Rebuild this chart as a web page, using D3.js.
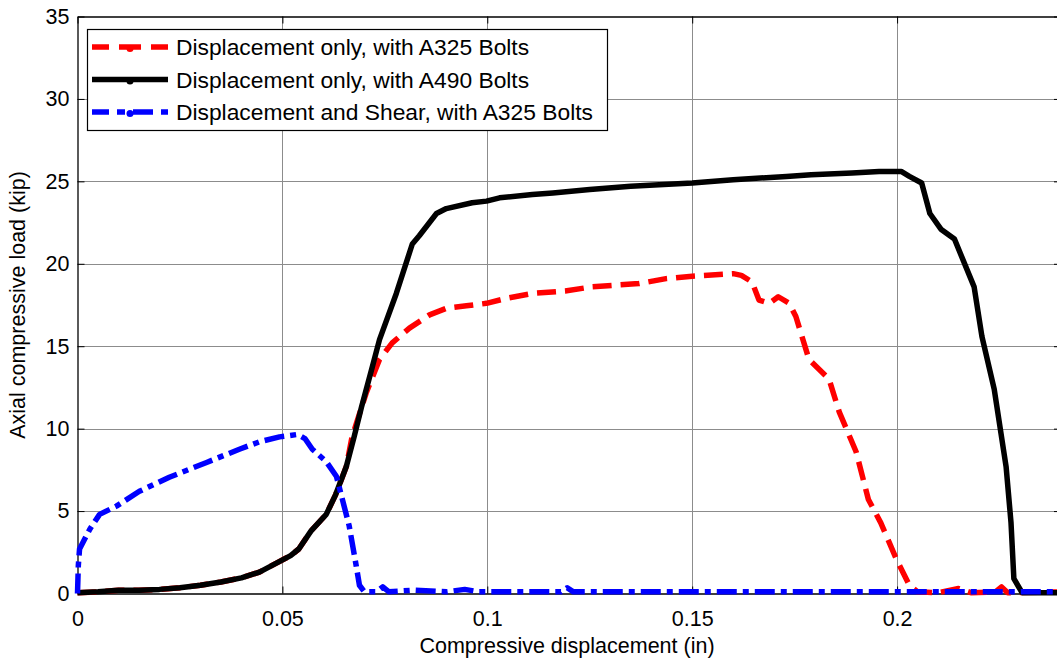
<!DOCTYPE html>
<html>
<head>
<meta charset="utf-8">
<script src="https://cdn.jsdelivr.net/npm/d3@7"></script>
<style>
  body { margin: 0; background: #fff; }
  svg { font-family: "Liberation Sans", Arial, sans-serif; }
</style>
</head>
<body>
<svg id="chart" width="1057" height="659"></svg>
<script>
// data
var a490X = [0, 0.005, 0.01, 0.015, 0.02, 0.025, 0.03, 0.035, 0.04, 0.0444, 0.049, 0.052, 0.054, 0.057, 0.0607, 0.063, 0.0656, 0.0675, 0.0693, 0.072, 0.0737, 0.0778, 0.0817, 0.0834, 0.0876, 0.09, 0.0963, 0.0998, 0.103, 0.111, 0.116, 0.125, 0.135, 0.15, 0.16, 0.173, 0.179, 0.189, 0.1956, 0.201, 0.203, 0.206, 0.208, 0.2107, 0.214, 0.2188, 0.2207, 0.2237, 0.2266, 0.2278, 0.2285, 0.2305, 0.24];
var a490Y = [0.05, 0.1, 0.2, 0.2, 0.25, 0.35, 0.5, 0.7, 0.95, 1.3, 1.9, 2.3, 2.7, 3.8, 4.8, 6.0, 7.7, 9.5, 11.3, 13.8, 15.4, 18.2, 21.2, 21.7, 23.05, 23.35, 23.7, 23.8, 24.0, 24.2, 24.3, 24.5, 24.7, 24.9, 25.1, 25.3, 25.4, 25.5, 25.6, 25.6, 25.3, 24.9, 23.05, 22.1, 21.5, 18.6, 15.6, 12.4, 7.7, 4.3, 0.9, 0.05, 0.05];

var a325X = [0, 0.005, 0.01, 0.015, 0.02, 0.025, 0.03, 0.035, 0.04, 0.0444, 0.049, 0.052, 0.054, 0.057, 0.0607, 0.063, 0.0656, 0.067, 0.0705, 0.0737, 0.0768, 0.081, 0.0859, 0.09, 0.0949, 0.0998, 0.1046, 0.111, 0.119, 0.1256, 0.137, 0.1436, 0.15, 0.16, 0.162, 0.1646, 0.1663, 0.1688, 0.171, 0.1737, 0.1753, 0.1785, 0.1834, 0.1859, 0.19, 0.193, 0.196, 0.1998, 0.203, 0.205, 0.21, 0.215, 0.218, 0.224, 0.2255, 0.227, 0.24];
var a325Y = [0.05, 0.1, 0.2, 0.2, 0.25, 0.35, 0.5, 0.7, 0.95, 1.3, 1.9, 2.3, 2.7, 3.8, 4.8, 6.0, 7.7, 9.5, 12.2, 14.2, 15.2, 16.1, 16.9, 17.3, 17.45, 17.6, 17.9, 18.2, 18.35, 18.6, 18.8, 19.1, 19.25, 19.4, 19.3, 18.9, 17.8, 17.6, 18.0, 17.6, 16.8, 14.2, 13.0, 11.0, 8.6, 5.7, 4.3, 2.1, 0.5, 0.1, 0.05, 0.3, 0.05, 0.1, 0.4, 0.05, 0.1];

var shearX = [0, 0.0002, 0.0005, 0.003, 0.0054, 0.0095, 0.0151, 0.0224, 0.0315, 0.0395, 0.0444, 0.0493, 0.0537, 0.0555, 0.0573, 0.0607, 0.0632, 0.0663, 0.068, 0.0688, 0.07, 0.073, 0.0745, 0.076, 0.082, 0.09, 0.0945, 0.098, 0.118, 0.1195, 0.121, 0.24];
var shearY = [0, 1.7, 2.7, 3.9, 4.8, 5.3, 6.2, 7.05, 7.95, 8.75, 9.2, 9.5, 9.65, 9.4, 8.75, 8.0, 7.1, 4.1, 1.7, 0.5, 0.1, 0.1, 0.4, 0.1, 0.2, 0.1, 0.25, 0.1, 0.1, 0.35, 0.1, 0.1];

var xTicks = [0, 0.05, 0.1, 0.15, 0.2];
var yTicks = [0, 5, 10, 15, 20, 25, 30, 35];

var seriesNames = ["Displacement only, with A325 Bolts", "Displacement only, with A490 Bolts", "Displacement and Shear, with A325 Bolts"];
var seriesColors = ["#ff0000", "#000000", "#0000ff"];
var seriesDash = ["19,9", null, "20,6,6,6"];

function drawChart() {
  var svg = d3.select("#chart");
  var pLeft = 77.5, pTop = 16.5, pRight = 1061, pBottom = 593.5;

  var x = d3.scaleLinear().domain([0, 0.24]).range([pLeft, pRight]);
  var y = d3.scaleLinear().domain([0, 35]).range([pBottom, pTop]);

  // grid
  var grid = svg.append("g").attr("stroke", "#8c8c8c").attr("stroke-width", 1);
  grid.selectAll(".gx").data(xTicks.slice(1)).enter().append("line")
    .attr("x1", d => Math.round(x(d)) + 0.5).attr("x2", d => Math.round(x(d)) + 0.5)
    .attr("y1", pTop).attr("y2", pBottom);
  grid.selectAll(".gy").data(yTicks.slice(1, -1)).enter().append("line")
    .attr("y1", d => Math.round(y(d)) + 0.5).attr("y2", d => Math.round(y(d)) + 0.5)
    .attr("x1", pLeft).attr("x2", pRight);

  // axes, ticks pointing inward
  var fmt = d => d === 0 ? "0" : String(d);
  svg.append("g").attr("transform", "translate(0," + pBottom + ")")
    .call(d3.axisBottom(x).tickValues(xTicks).tickFormat(fmt).tickSizeInner(-7).tickSizeOuter(0).tickPadding(17));
  svg.append("g").attr("transform", "translate(" + pLeft + ",0)")
    .call(d3.axisLeft(y).tickValues(yTicks).tickSizeInner(-7).tickSizeOuter(0).tickPadding(8));
  svg.append("g").attr("transform", "translate(" + pRight + ",0)")
    .call(d3.axisRight(y).tickValues(yTicks).tickFormat("").tickSizeInner(-7).tickSizeOuter(0));
  svg.append("g").attr("transform", "translate(0," + pTop + ")")
    .call(d3.axisTop(x).tickValues(xTicks).tickFormat("").tickSizeInner(-7).tickSizeOuter(0));
  svg.selectAll(".domain").attr("stroke", "#000").attr("stroke-width", 1.3);
  svg.selectAll(".tick line").attr("stroke", "#000");
  svg.selectAll(".tick text").attr("font-size", 21.5).attr("fill", "#000")
    .attr("font-family", "'Liberation Sans', Arial, sans-serif");

  // series, plotted in legend order (red, black, blue)
  var line = d3.line().x(d => x(d[0])).y(d => y(d[1]));
  svg.append("clipPath").attr("id", "clip").append("rect")
    .attr("x", pLeft - 4).attr("y", pTop).attr("width", pRight - pLeft + 4).attr("height", pBottom - pTop + 4);

  var series = [d3.zip(a325X, a325Y), d3.zip(a490X, a490Y), d3.zip(shearX, shearY)];
  svg.append("g").attr("clip-path", "url(#clip)")
    .selectAll("path").data([0, 1, 2]).enter().append("path")
    .attr("d", i => line(series[i]))
    .attr("fill", "none")
    .attr("stroke", i => seriesColors[i])
    .attr("stroke-width", 5.5)
    .attr("stroke-linejoin", "round")
    .attr("stroke-dasharray", i => seriesDash[i]);

  // legend
  var lg = svg.append("g");
  lg.append("rect").attr("x", 87.5).attr("y", 29.5).attr("width", 520).attr("height", 101)
    .attr("fill", "#fff").attr("stroke", "#000").attr("stroke-width", 1.2);
  var rows = lg.selectAll(".row").data(d3.range(3)).enter().append("g")
    .attr("transform", i => "translate(0," + (47 + i * 32.5) + ")");
  rows.append("line").attr("x1", 92).attr("x2", 168).attr("y1", 0).attr("y2", 0)
    .attr("stroke", i => seriesColors[i]).attr("stroke-width", 5.5)
    .attr("stroke-dasharray", i => seriesDash[i] ? (i === 0 ? "17,10,22,10,17" : "17,8,8,8,20,8") : null);
  rows.append("circle").attr("cx", 130).attr("cy", 1.5).attr("r", 3.5).attr("fill", i => seriesColors[i]);
  rows.append("text").attr("x", 176).attr("y", 8).attr("font-size", 22.8).attr("fill", "#000")
    .text(i => seriesNames[i]);

  // axis titles
  svg.append("text").attr("x", 567).attr("y", 653).attr("text-anchor", "middle")
    .attr("font-size", 21.5).text("Compressive displacement (in)");
  svg.append("text").attr("transform", "translate(25," + ((pTop + pBottom) / 2) + ") rotate(-90)")
    .attr("text-anchor", "middle").attr("font-size", 21.5).text("Axial compressive load (kip)");
}

drawChart();
</script>
</body>
</html>
